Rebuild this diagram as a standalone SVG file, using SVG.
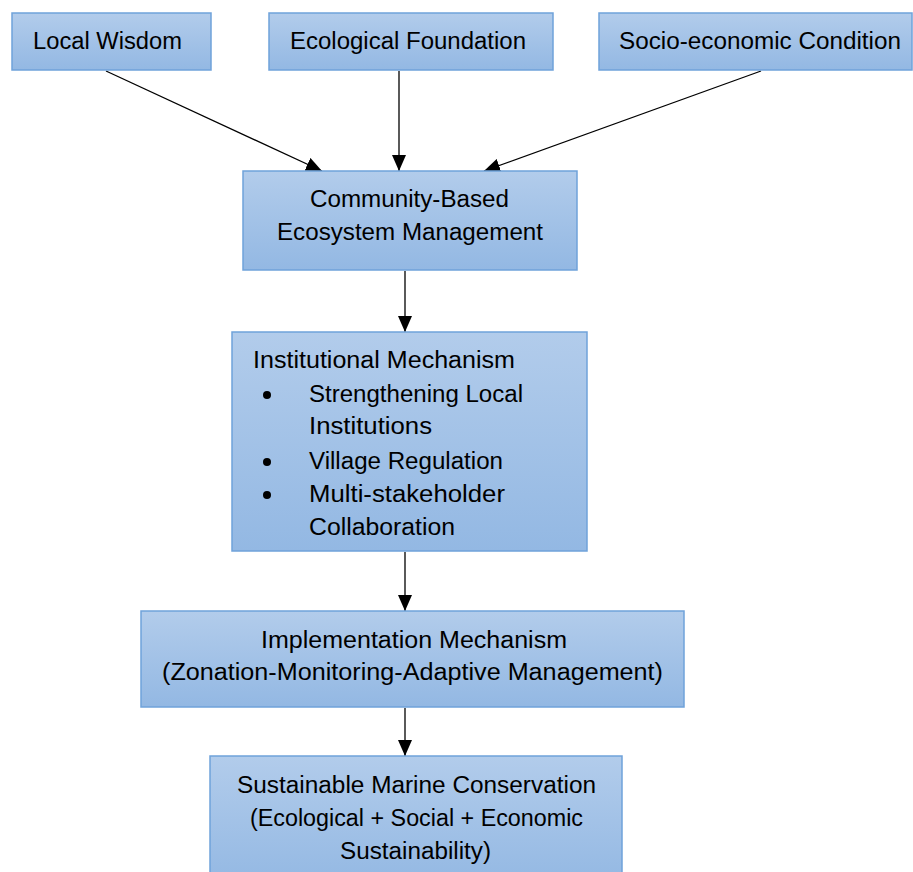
<svg xmlns="http://www.w3.org/2000/svg" width="913" height="872" viewBox="0 0 913 872">
<defs>
<linearGradient id="g" x1="0" y1="0" x2="0" y2="1">
<stop offset="0" stop-color="#b2cceb"/>
<stop offset="1" stop-color="#93b8e3"/>
</linearGradient>
<marker id="ah" markerUnits="userSpaceOnUse" markerWidth="16" markerHeight="14" refX="16" refY="7" orient="auto">
<path d="M0,0 L16,7 L0,14 Z" fill="#000"/>
</marker>
<style>
.box{fill:url(#g);stroke:#6fa2da;stroke-width:1.5}
.t{font-family:"Liberation Sans",Arial,sans-serif;font-size:23px;fill:#000}
.ln{stroke:#000;stroke-width:1.3;fill:none;marker-end:url(#ah)}
</style>
</defs>
<rect width="913" height="872" fill="#fff"/>
<g id="connectors">
<line class="ln" x1="106" y1="71" x2="322" y2="171"/>
<line class="ln" x1="399" y1="71" x2="399" y2="171"/>
<line class="ln" x1="761" y1="71" x2="484" y2="171"/>
<line class="ln" x1="405" y1="271" x2="405" y2="332"/>
<line class="ln" x1="405" y1="552" x2="405" y2="611"/>
<line class="ln" x1="405" y1="708" x2="405" y2="756"/>
</g>
<g id="local-wisdom">
<rect class="box" x="12" y="13" width="199" height="57"/>
<text class="t" x="33" y="49" textLength="149" lengthAdjust="spacingAndGlyphs">Local Wisdom</text>
</g>
<g id="ecological-foundation">
<rect class="box" x="269" y="13" width="284" height="57"/>
<text class="t" x="290" y="49" textLength="236" lengthAdjust="spacingAndGlyphs">Ecological Foundation</text>
</g>
<g id="socio-economic">
<rect class="box" x="599" y="13" width="313" height="57"/>
<text class="t" x="619" y="49" textLength="282" lengthAdjust="spacingAndGlyphs">Socio-economic Condition</text>
</g>
<g id="cbem">
<rect class="box" x="243" y="171" width="334" height="99"/>
<text class="t" x="310" y="207" textLength="199" lengthAdjust="spacingAndGlyphs">Community-Based</text>
<text class="t" x="277" y="240" textLength="266" lengthAdjust="spacingAndGlyphs">Ecosystem Management</text>
</g>
<g id="institutional">
<rect class="box" x="232" y="332" width="355" height="219"/>
<text class="t" x="253" y="368" textLength="262" lengthAdjust="spacingAndGlyphs">Institutional Mechanism</text>
<circle cx="267" cy="395" r="4"/>
<text class="t" x="309" y="402" textLength="214" lengthAdjust="spacingAndGlyphs">Strengthening Local</text>
<text class="t" x="309" y="434" textLength="123" lengthAdjust="spacingAndGlyphs">Institutions</text>
<circle cx="267" cy="462" r="4"/>
<text class="t" x="309" y="469" textLength="194" lengthAdjust="spacingAndGlyphs">Village Regulation</text>
<circle cx="267" cy="495" r="4"/>
<text class="t" x="309" y="502" textLength="196" lengthAdjust="spacingAndGlyphs">Multi-stakeholder</text>
<text class="t" x="309" y="535" textLength="146" lengthAdjust="spacingAndGlyphs">Collaboration</text>
</g>
<g id="implementation">
<rect class="box" x="141" y="611" width="543" height="96"/>
<text class="t" x="261" y="648" textLength="306" lengthAdjust="spacingAndGlyphs">Implementation Mechanism</text>
<text class="t" x="162" y="680" textLength="501" lengthAdjust="spacingAndGlyphs">(Zonation-Monitoring-Adaptive Management)</text>
</g>
<g id="sustainable">
<rect class="box" x="210" y="756" width="412" height="130"/>
<text class="t" x="237" y="793" textLength="359" lengthAdjust="spacingAndGlyphs">Sustainable Marine Conservation</text>
<text class="t" x="250" y="826" textLength="333" lengthAdjust="spacingAndGlyphs">(Ecological + Social + Economic</text>
<text class="t" x="340" y="859" textLength="151" lengthAdjust="spacingAndGlyphs">Sustainability)</text>
</g>
</svg>
